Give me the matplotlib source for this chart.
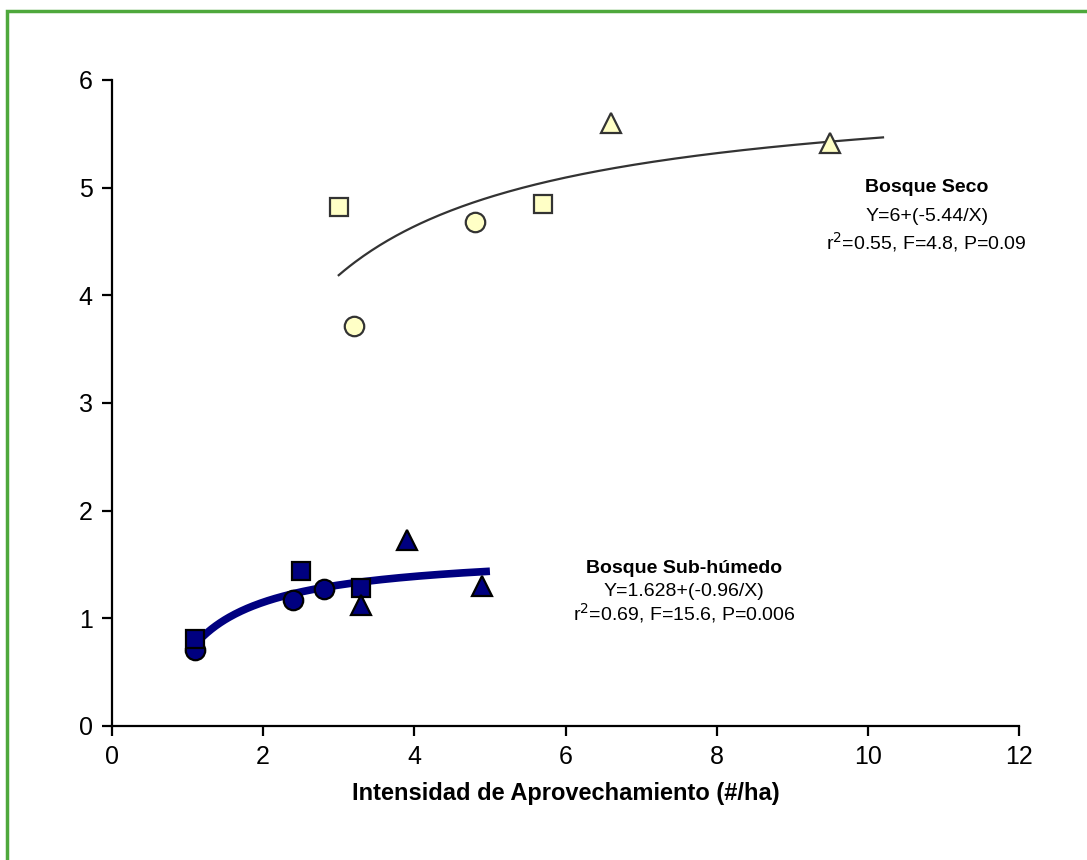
import matplotlib
matplotlib.use('Agg')
import matplotlib.pyplot as plt
import numpy as np
from matplotlib.patches import Rectangle

plt.rcParams['font.family'] = ['Liberation Sans', 'DejaVu Sans']

# Bosque Seco (dry forest)
seco_sq_x = [3.0, 5.7]
seco_sq_y = [4.82, 4.85]
seco_ci_x = [3.2, 4.8]
seco_ci_y = [3.71, 4.68]
seco_tr_x = [6.6, 9.5]
seco_tr_y = [5.60, 5.41]
seco_fit = (6.0, -5.44)
seco_range = (3.0, 10.2)

# Bosque Sub-humedo
sub_sq_x = [1.1, 2.5, 3.3]
sub_sq_y = [0.81, 1.44, 1.28]
sub_ci_x = [1.1, 2.4, 2.8]
sub_ci_y = [0.70, 1.17, 1.27]
sub_tr_x = [3.3, 3.9, 4.9]
sub_tr_y = [1.12, 1.73, 1.30]
sub_fit = (1.628, -0.96)
sub_range = (1.1, 5.0)

XTICKS = [0, 2, 4, 6, 8, 10, 12]
YTICKS = [0, 1, 2, 3, 4, 5, 6]

SECO_FILL = '#ffffc6'
SECO_EDGE = '#333333'
SUB_FILL = '#000080'


def fit_curve(ab, rng):
    x = np.linspace(rng[0], rng[1], 200)
    return x, ab[0] + ab[1] / x


fig = plt.figure(figsize=(10.87, 8.6), dpi=100)
fig.patches.append(Rectangle((7 / 1087, -0.05), 1.2, (1 - 11 / 860) + 0.05,
                             transform=fig.transFigure, fill=False,
                             edgecolor='#4ea83c', lw=2.5, zorder=0))
ax = fig.add_axes([0.103, 0.156, 0.8345, 0.751])

# fitted curves
x, y = fit_curve(seco_fit, seco_range)
ax.plot(x, y, color='#333333', lw=1.6, zorder=2)
x, y = fit_curve(sub_fit, sub_range)
ax.plot(x, y, color=SUB_FILL, lw=5.5, solid_capstyle='butt', zorder=2)

# dry forest markers
kw = dict(ls='none', mfc=SECO_FILL, mec=SECO_EDGE, mew=1.6, zorder=3)
ax.plot(seco_sq_x, seco_sq_y, marker='s', ms=12.5, **kw)
ax.plot(seco_ci_x, seco_ci_y, marker='o', ms=14, **kw)
ax.plot(seco_tr_x, seco_tr_y, marker='^', ms=15, **kw)

# sub-humid markers
kw = dict(ls='none', mfc=SUB_FILL, mec='black', mew=1.6, zorder=3)
ax.plot(sub_ci_x, sub_ci_y, marker='o', ms=14, **kw)
ax.plot(sub_sq_x, sub_sq_y, marker='s', ms=12.5, **kw)
ax.plot(sub_tr_x, sub_tr_y, marker='^', ms=15, **kw)

# annotations
ax.text(10.78, 5.0, 'Bosque Seco', ha='center', va='center',
        fontsize=14, fontweight='bold')
ax.text(10.78, 4.73, 'Y=6+(-5.44/X)', ha='center', va='center', fontsize=14)
ax.text(10.78, 4.49, r'r$^2$=0.55, F=4.8, P=0.09', ha='center',
        va='center', fontsize=14)
ax.text(7.57, 1.46, 'Bosque Sub-húmedo', ha='center', va='center',
        fontsize=14, fontweight='bold')
ax.text(7.57, 1.25, 'Y=1.628+(-0.96/X)', ha='center', va='center',
        fontsize=14)
ax.text(7.57, 1.05, r'r$^2$=0.69, F=15.6, P=0.006', ha='center',
        va='center', fontsize=14)

ax.set_xlim(0, 12)
ax.set_ylim(0, 6)
ax.set_xticks(XTICKS)
ax.set_yticks(YTICKS)
ax.spines['top'].set_visible(False)
ax.spines['right'].set_visible(False)
for s in ('left', 'bottom'):
    ax.spines[s].set_linewidth(1.6)
ax.tick_params(direction='out', length=7, width=1.6, labelsize=18, pad=7)
ax.set_xlabel('Intensidad de Aprovechamiento (#/ha)', fontsize=17,
              fontweight='bold', labelpad=9)

fig.savefig('out.png', dpi=100)
